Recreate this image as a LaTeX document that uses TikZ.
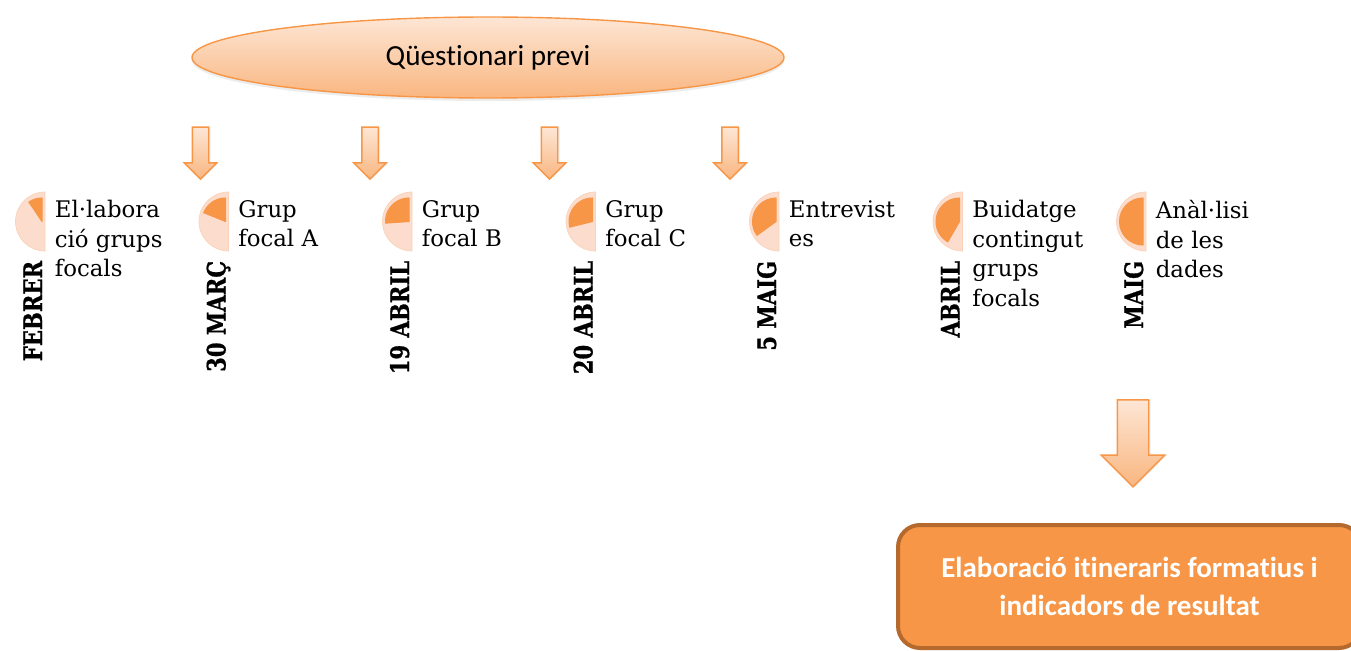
\documentclass[tikz,border=0pt]{standalone}
\usepackage{fontspec}
\setmainfont{DejaVu Serif}
\setsansfont[Ligatures=NoCommon]{Carlito}
\newfontfamily\datefont[FakeStretch=0.83, FakeBold=0.8]{DejaVu Serif}
\usetikzlibrary{shapes.geometric, shapes.arrows, shadows, positioning}

\definecolor{accent}{HTML}{F79646}
\definecolor{accentdark}{HTML}{B5692C}
\definecolor{pielight}{HTML}{FCDCCC}
\definecolor{peachtop}{HTML}{FDE6D5}
\definecolor{peachbot}{HTML}{F9B680}

% progress pie: left half circle with an orange sector from 12 o'clock
\newcommand{\timepie}[2]{%
  \filldraw[fill=pielight, draw=pielight!85!accent, line width=0.4pt] (#1) ++(0,0.59) arc[start angle=90, end angle=270, radius=0.59] -- cycle;
  \filldraw[accent, line join=round, line width=0.6pt] ([xshift=-0.06cm]#1) -- ++(0,0.47) arc[start angle=90, end angle=#2, radius=0.47] -- cycle;
}

\begin{document}
\begin{tikzpicture}[
    quest/.style={ellipse, draw=accent, line width=0.8pt, top color=peachtop, bottom color=peachbot, minimum width=11.84cm, minimum height=1.62cm, font=\sffamily\fontsize{16.6}{20}\selectfont, drop shadow={opacity=0.15, shadow xshift=0cm, shadow yshift=-0.06cm}},
    downarrow/.style={single arrow, draw=accent, line width=0.8pt, rotate=-90, top color=peachtop, bottom color=peachbot, inner xsep=0pt, inner ysep=0.15cm, single arrow head extend=0.16cm, minimum height=1.04cm, drop shadow={opacity=0.15, shadow xshift=0.04cm, shadow yshift=0cm}},
    bigarrow/.style={downarrow, inner ysep=0.3cm, single arrow head extend=0.32cm, minimum height=1.74cm},
    stepbox/.style={anchor=north west, inner sep=0pt, align=left, font=\fontsize{13}{16.8}\selectfont},
    datebox/.style={anchor=base east, rotate=90, inner sep=0pt, font=\datefont\bfseries\fontsize{14.5}{16}\selectfont},
    result/.style={rectangle, rounded corners=0.44cm, draw=accentdark, line width=0.08cm, fill=accent, text=white, align=center, minimum width=9.26cm, minimum height=2.46cm, font=\sffamily\bfseries\fontsize{16.5}{21.6}\selectfont}
]
\useasboundingbox (0,0) rectangle (27.02,-13.02);

\node[quest] (quest) at (9.76,-1.15) {Qüestionari previ};

\node[downarrow] (a1) at (4.01,-2.98) {};
\node[downarrow] (a2) at (7.40,-2.98) {};
\node[downarrow] (a3) at (10.99,-2.98) {};
\node[downarrow] (a4) at (14.60,-2.98) {};

% timeline
\coordinate (p1) at (0.90,-4.43);
\coordinate (p2) at (4.57,-4.43);
\coordinate (p3) at (8.24,-4.43);
\coordinate (p4) at (11.91,-4.43);
\coordinate (p5) at (15.58,-4.43);
\coordinate (p6) at (19.25,-4.43);
\coordinate (p7) at (22.92,-4.43);

\timepie{p1}{124}
\timepie{p2}{158}
\timepie{p3}{184}
\timepie{p4}{194}
\timepie{p5}{216}
\timepie{p6}{240}
\timepie{p7}{270}

\node[stepbox] (t1) at ([xshift=0.19cm, yshift=0.43cm]p1) {El·labora\\ció grups\\focals};
\node[stepbox] (t2) at ([xshift=0.19cm, yshift=0.43cm]p2) {Grup\\focal A};
\node[stepbox] (t3) at ([xshift=0.19cm, yshift=0.43cm]p3) {Grup\\focal B};
\node[stepbox] (t4) at ([xshift=0.19cm, yshift=0.43cm]p4) {Grup\\focal C};
\node[stepbox] (t5) at ([xshift=0.19cm, yshift=0.43cm]p5) {Entrevist\\es};
\node[stepbox] (t6) at ([xshift=0.19cm, yshift=0.43cm]p6) {Buidatge\\contingut\\grups\\focals};
\node[stepbox] (t7) at ([xshift=0.19cm, yshift=0.43cm]p7) {Anàl·lisi\\de les\\dades};

\node[datebox] (d1) at ([xshift=-0.06cm, yshift=-0.78cm]p1) {FEBRER};
\node[datebox] (d2) at ([xshift=-0.06cm, yshift=-0.78cm]p2) {30 MARÇ};
\node[datebox] (d3) at ([xshift=-0.06cm, yshift=-0.78cm]p3) {19 ABRIL};
\node[datebox] (d4) at ([xshift=-0.06cm, yshift=-0.78cm]p4) {20 ABRIL};
\node[datebox] (d5) at ([xshift=-0.06cm, yshift=-0.78cm]p5) {5 MAIG};
\node[datebox] (d6) at ([xshift=-0.06cm, yshift=-0.78cm]p6) {ABRIL};
\node[datebox] (d7) at ([xshift=-0.06cm, yshift=-0.78cm]p7) {MAIG};

\node[bigarrow] (a5) at (22.66,-8.71) {};
\node[result] (res) at (22.59,-11.73) {Elaboració itineraris formatius i\\indicadors de resultat};
\end{tikzpicture}
\end{document}
